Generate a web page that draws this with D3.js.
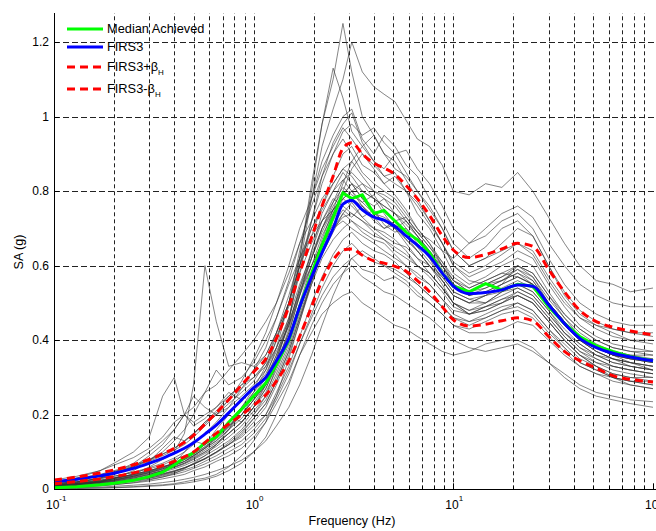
<!DOCTYPE html>
<html>
<head>
<meta charset="utf-8">
<script src="https://cdn.jsdelivr.net/npm/d3@7"></script>
<style>
  body { margin: 0; background: #fff; }
  svg { font-family: "Liberation Sans", Arial, sans-serif; }
</style>
</head>
<body>
<div id="chart"></div>
<script>
// frequency points (Hz) shared by every curve
var freq = [0.1,0.13,0.17,0.2,0.25,0.3,0.35,0.4,0.45,0.5,0.57,0.65,0.75,0.87,1.0,1.15,1.3,1.5,1.7,1.95,2.2,2.5,2.8,3.1,3.5,4.0,4.5,5.1,5.8,6.6,7.6,8.8,10,12,14.5,17.5,21,25,30,36,43,52,63,77,100];

var firs3 = [0.02,0.027,0.036,0.043,0.056,0.07,0.083,0.097,0.11,0.125,0.148,0.172,0.205,0.24,0.272,0.3,0.345,0.405,0.49,0.57,0.635,0.70,0.765,0.775,0.75,0.73,0.722,0.705,0.68,0.655,0.625,0.58,0.545,0.525,0.528,0.535,0.548,0.545,0.495,0.445,0.405,0.38,0.365,0.355,0.345];
var firs3Plus = [0.025,0.033,0.044,0.052,0.066,0.08,0.095,0.11,0.126,0.145,0.175,0.205,0.24,0.28,0.315,0.35,0.405,0.49,0.58,0.675,0.76,0.84,0.915,0.93,0.90,0.875,0.862,0.845,0.815,0.78,0.735,0.68,0.642,0.622,0.63,0.645,0.66,0.652,0.59,0.53,0.48,0.45,0.435,0.425,0.414];
var firs3Minus = [0.015,0.021,0.028,0.034,0.044,0.054,0.064,0.075,0.087,0.10,0.125,0.15,0.175,0.20,0.225,0.253,0.29,0.345,0.41,0.49,0.56,0.615,0.642,0.645,0.628,0.613,0.607,0.598,0.585,0.56,0.53,0.49,0.455,0.438,0.443,0.452,0.46,0.452,0.41,0.37,0.345,0.325,0.305,0.295,0.288];
var median = [0.004,0.007,0.012,0.016,0.024,0.034,0.046,0.065,0.085,0.098,0.125,0.14,0.18,0.215,0.25,0.285,0.335,0.40,0.49,0.58,0.655,0.73,0.795,0.78,0.79,0.74,0.748,0.72,0.69,0.67,0.635,0.58,0.545,0.53,0.552,0.535,0.55,0.545,0.49,0.445,0.41,0.385,0.37,0.356,0.345];

// individual records
var rec01 = [0.01,0.015,0.02,0.03,0.04,0.05,0.06,0.07,0.08,0.09,0.11,0.13,0.16,0.2,0.25,0.3,0.38,0.5,0.62,0.8,0.98,1.1,1.25,1.12,1.0,0.95,0.9,0.88,0.83,0.78,0.72,0.66,0.6,0.56,0.55,0.57,0.6,0.58,0.52,0.46,0.41,0.38,0.36,0.34,0.32];
var rec02 = [0.01,0.015,0.02,0.025,0.035,0.045,0.055,0.065,0.075,0.09,0.11,0.13,0.16,0.19,0.23,0.28,0.35,0.45,0.6,0.78,0.92,1.02,1.1,1.2,1.12,1.08,1.06,1.04,0.99,0.94,0.92,0.87,0.8,0.79,0.82,0.81,0.85,0.8,0.73,0.66,0.6,0.56,0.55,0.53,0.54];
var rec03 = [0.01,0.012,0.018,0.022,0.03,0.04,0.05,0.06,0.07,0.085,0.1,0.12,0.15,0.18,0.22,0.27,0.34,0.45,0.62,0.82,0.98,1.13,1.05,0.96,0.92,0.88,0.86,0.9,0.85,0.8,0.76,0.7,0.64,0.6,0.62,0.64,0.66,0.63,0.56,0.5,0.46,0.44,0.43,0.42,0.41];
var rec04 = [0.015,0.02,0.03,0.035,0.045,0.055,0.065,0.08,0.09,0.1,0.12,0.14,0.17,0.21,0.26,0.32,0.4,0.5,0.64,0.78,0.88,0.95,1.0,1.02,0.94,0.9,0.95,0.92,0.87,0.84,0.78,0.72,0.66,0.62,0.65,0.7,0.72,0.68,0.6,0.52,0.47,0.44,0.42,0.4,0.4];
var rec05 = [0.01,0.015,0.02,0.03,0.04,0.06,0.08,0.1,0.15,0.28,0.6,0.45,0.33,0.34,0.33,0.36,0.42,0.5,0.6,0.7,0.76,0.82,0.86,0.84,0.8,0.78,0.76,0.74,0.7,0.67,0.63,0.6,0.56,0.53,0.55,0.56,0.58,0.55,0.49,0.44,0.4,0.37,0.35,0.34,0.33];
var rec06 = [0.02,0.03,0.05,0.07,0.1,0.14,0.25,0.3,0.2,0.18,0.2,0.22,0.25,0.28,0.3,0.34,0.42,0.52,0.62,0.7,0.75,0.8,0.83,0.8,0.76,0.73,0.7,0.72,0.68,0.64,0.6,0.55,0.5,0.47,0.48,0.5,0.52,0.5,0.45,0.4,0.36,0.33,0.31,0.3,0.29];
var rec07 = [0.02,0.025,0.035,0.045,0.06,0.08,0.1,0.13,0.16,0.2,0.26,0.32,0.28,0.3,0.34,0.4,0.46,0.55,0.62,0.68,0.72,0.75,0.78,0.8,0.82,0.78,0.74,0.7,0.72,0.68,0.62,0.56,0.52,0.5,0.52,0.55,0.6,0.57,0.5,0.44,0.4,0.37,0.35,0.33,0.32];
var rec08 = [0.002,0.003,0.004,0.005,0.007,0.01,0.012,0.015,0.02,0.025,0.03,0.04,0.06,0.09,0.13,0.18,0.25,0.35,0.45,0.56,0.64,0.7,0.74,0.72,0.7,0.68,0.67,0.64,0.62,0.6,0.58,0.54,0.5,0.47,0.48,0.5,0.52,0.5,0.45,0.4,0.36,0.33,0.3,0.28,0.27];
var rec09 = [0.001,0.002,0.003,0.004,0.006,0.008,0.01,0.013,0.016,0.02,0.026,0.035,0.05,0.07,0.1,0.14,0.2,0.28,0.36,0.44,0.5,0.55,0.58,0.6,0.57,0.55,0.53,0.52,0.5,0.48,0.46,0.43,0.4,0.38,0.37,0.38,0.39,0.37,0.34,0.3,0.27,0.25,0.24,0.23,0.22];
var rec10 = [0.02,0.03,0.04,0.05,0.065,0.08,0.095,0.11,0.13,0.15,0.18,0.21,0.25,0.28,0.32,0.36,0.42,0.5,0.6,0.68,0.76,0.84,0.9,0.92,0.87,0.85,0.82,0.84,0.8,0.74,0.7,0.64,0.58,0.55,0.57,0.6,0.62,0.6,0.53,0.47,0.43,0.4,0.38,0.37,0.36];
var rec11 = [0.015,0.02,0.025,0.03,0.04,0.05,0.06,0.07,0.08,0.1,0.12,0.14,0.18,0.22,0.26,0.3,0.36,0.44,0.54,0.64,0.72,0.78,0.76,0.74,0.72,0.7,0.68,0.66,0.65,0.62,0.6,0.56,0.52,0.5,0.5,0.52,0.54,0.52,0.47,0.42,0.39,0.36,0.35,0.34,0.33];
var rec12 = [0.01,0.015,0.02,0.025,0.035,0.045,0.055,0.065,0.075,0.09,0.11,0.14,0.17,0.2,0.24,0.28,0.33,0.4,0.48,0.57,0.66,0.74,0.8,0.86,0.9,0.86,0.82,0.79,0.75,0.7,0.66,0.6,0.56,0.54,0.56,0.58,0.57,0.55,0.5,0.44,0.4,0.38,0.36,0.35,0.34];
var rec13 = [0.008,0.01,0.014,0.018,0.024,0.03,0.036,0.044,0.052,0.06,0.075,0.09,0.11,0.13,0.16,0.2,0.25,0.32,0.39,0.46,0.52,0.57,0.6,0.62,0.59,0.58,0.56,0.57,0.55,0.52,0.5,0.47,0.44,0.42,0.42,0.43,0.45,0.44,0.4,0.36,0.33,0.31,0.3,0.29,0.28];
var rec14 = [0.005,0.007,0.01,0.013,0.017,0.022,0.028,0.034,0.04,0.05,0.06,0.075,0.09,0.11,0.14,0.18,0.23,0.29,0.36,0.42,0.47,0.5,0.52,0.53,0.5,0.48,0.46,0.44,0.43,0.41,0.39,0.37,0.36,0.37,0.39,0.4,0.4,0.38,0.34,0.31,0.28,0.26,0.25,0.24,0.235];
var rec15 = [0.012,0.017,0.024,0.03,0.04,0.05,0.06,0.07,0.085,0.1,0.12,0.15,0.18,0.22,0.27,0.33,0.4,0.5,0.6,0.72,0.82,0.9,0.96,0.98,0.95,0.97,0.93,0.9,0.91,0.86,0.82,0.76,0.7,0.66,0.68,0.72,0.74,0.7,0.62,0.55,0.5,0.47,0.45,0.44,0.44];
var rec16 = [0.01,0.014,0.02,0.025,0.033,0.042,0.05,0.06,0.07,0.082,0.1,0.12,0.15,0.18,0.22,0.27,0.33,0.42,0.52,0.64,0.74,0.8,0.85,0.82,0.78,0.74,0.72,0.7,0.66,0.62,0.58,0.54,0.5,0.48,0.5,0.53,0.55,0.53,0.48,0.42,0.38,0.35,0.33,0.32,0.31];
var rec17 = [0.025,0.035,0.05,0.065,0.085,0.11,0.14,0.18,0.2,0.22,0.26,0.28,0.32,0.36,0.4,0.45,0.5,0.58,0.66,0.72,0.78,0.82,0.86,0.88,0.84,0.8,0.78,0.76,0.72,0.68,0.64,0.6,0.55,0.52,0.54,0.56,0.58,0.56,0.5,0.45,0.41,0.38,0.36,0.35,0.34];
var rec18 = [0.008,0.012,0.016,0.02,0.027,0.034,0.042,0.05,0.058,0.068,0.082,0.1,0.12,0.15,0.19,0.23,0.29,0.37,0.46,0.55,0.62,0.67,0.7,0.72,0.69,0.67,0.66,0.63,0.6,0.57,0.55,0.51,0.47,0.45,0.46,0.48,0.5,0.48,0.43,0.38,0.34,0.32,0.3,0.29,0.29];
var rec19 = [0.012,0.016,0.022,0.028,0.037,0.047,0.057,0.068,0.08,0.094,0.113,0.135,0.165,0.2,0.24,0.29,0.36,0.46,0.58,0.72,0.84,0.93,0.98,1.01,0.93,0.88,0.84,0.82,0.8,0.77,0.72,0.66,0.6,0.57,0.59,0.61,0.64,0.62,0.55,0.49,0.44,0.41,0.39,0.38,0.37];
var rec20 = [0.015,0.02,0.03,0.04,0.06,0.09,0.12,0.16,0.2,0.25,0.22,0.2,0.22,0.25,0.28,0.32,0.38,0.46,0.55,0.63,0.7,0.75,0.78,0.76,0.73,0.7,0.69,0.67,0.64,0.6,0.57,0.53,0.49,0.47,0.49,0.5,0.53,0.51,0.46,0.41,0.37,0.34,0.33,0.32,0.31];
var rec21 = [0.01,0.014,0.019,0.024,0.032,0.04,0.049,0.058,0.068,0.08,0.096,0.115,0.14,0.17,0.21,0.25,0.31,0.39,0.48,0.58,0.67,0.75,0.82,0.88,0.92,0.95,0.9,0.86,0.84,0.8,0.75,0.7,0.64,0.6,0.62,0.66,0.7,0.68,0.6,0.53,0.48,0.45,0.43,0.42,0.42];
var rec22 = [0.012,0.016,0.022,0.027,0.035,0.044,0.053,0.063,0.074,0.087,0.105,0.125,0.15,0.18,0.22,0.26,0.32,0.4,0.5,0.6,0.68,0.74,0.79,0.82,0.8,0.78,0.76,0.74,0.72,0.69,0.67,0.64,0.62,0.66,0.7,0.74,0.76,0.73,0.66,0.6,0.55,0.52,0.5,0.49,0.49];
var rec23 = [0.006,0.009,0.012,0.016,0.021,0.027,0.033,0.04,0.047,0.056,0.068,0.082,0.1,0.12,0.15,0.19,0.24,0.31,0.39,0.47,0.54,0.6,0.64,0.66,0.63,0.61,0.6,0.58,0.56,0.53,0.5,0.47,0.44,0.43,0.45,0.47,0.48,0.46,0.41,0.37,0.33,0.31,0.29,0.28,0.27];
var rec24 = [0.01,0.013,0.018,0.023,0.03,0.038,0.046,0.055,0.064,0.075,0.09,0.108,0.13,0.16,0.2,0.24,0.3,0.38,0.47,0.56,0.63,0.69,0.74,0.77,0.73,0.75,0.71,0.69,0.7,0.66,0.62,0.58,0.54,0.52,0.53,0.55,0.57,0.55,0.5,0.45,0.41,0.38,0.36,0.35,0.35];
var rec25 = [0.015,0.02,0.028,0.035,0.046,0.058,0.07,0.084,0.1,0.12,0.15,0.18,0.22,0.27,0.32,0.38,0.46,0.56,0.66,0.76,0.84,0.9,0.94,0.9,0.85,0.82,0.8,0.78,0.74,0.7,0.66,0.61,0.56,0.53,0.55,0.57,0.59,0.57,0.51,0.46,0.42,0.39,0.37,0.36,0.35];
var rec26 = [0.003,0.004,0.006,0.008,0.011,0.014,0.018,0.022,0.027,0.032,0.04,0.05,0.062,0.078,0.1,0.13,0.17,0.22,0.28,0.36,0.44,0.52,0.58,0.62,0.64,0.62,0.6,0.59,0.57,0.55,0.52,0.49,0.46,0.44,0.46,0.48,0.49,0.47,0.42,0.38,0.34,0.32,0.3,0.29,0.28];
var rec27 = [0.012,0.017,0.023,0.029,0.038,0.048,0.058,0.069,0.081,0.095,0.115,0.138,0.168,0.2,0.24,0.28,0.34,0.42,0.52,0.62,0.7,0.76,0.8,0.78,0.76,0.73,0.72,0.7,0.67,0.64,0.6,0.56,0.52,0.5,0.52,0.54,0.56,0.54,0.49,0.44,0.4,0.37,0.35,0.34,0.33];
var rec28 = [0.008,0.011,0.015,0.019,0.025,0.032,0.04,0.048,0.057,0.067,0.081,0.098,0.12,0.145,0.18,0.22,0.28,0.36,0.45,0.55,0.64,0.72,0.78,0.8,0.77,0.74,0.73,0.71,0.69,0.65,0.61,0.57,0.53,0.51,0.52,0.53,0.55,0.53,0.48,0.43,0.39,0.36,0.34,0.33,0.32];
var rec29 = [0.02,0.028,0.038,0.048,0.062,0.078,0.094,0.11,0.128,0.148,0.175,0.205,0.24,0.27,0.3,0.33,0.38,0.45,0.53,0.62,0.7,0.77,0.83,0.85,0.82,0.8,0.79,0.77,0.73,0.69,0.65,0.6,0.55,0.52,0.53,0.55,0.57,0.55,0.5,0.45,0.41,0.38,0.37,0.36,0.36];
var rec30 = [0.01,0.013,0.017,0.021,0.027,0.034,0.041,0.049,0.058,0.068,0.082,0.1,0.125,0.155,0.19,0.23,0.29,0.37,0.46,0.56,0.64,0.7,0.73,0.74,0.72,0.69,0.67,0.65,0.63,0.6,0.58,0.54,0.5,0.48,0.49,0.51,0.53,0.51,0.46,0.41,0.37,0.35,0.33,0.32,0.31];
var rec31 = [0.012,0.018,0.03,0.045,0.07,0.1,0.13,0.16,0.2,0.17,0.19,0.22,0.26,0.24,0.27,0.31,0.37,0.44,0.52,0.6,0.66,0.71,0.75,0.73,0.76,0.72,0.7,0.71,0.67,0.64,0.6,0.57,0.53,0.51,0.5,0.53,0.54,0.52,0.47,0.42,0.38,0.36,0.34,0.33,0.32];
var rec32 = [0.008,0.012,0.02,0.03,0.05,0.075,0.11,0.14,0.13,0.15,0.18,0.2,0.23,0.26,0.29,0.34,0.41,0.49,0.58,0.66,0.72,0.77,0.81,0.79,0.77,0.79,0.75,0.72,0.73,0.69,0.65,0.61,0.57,0.54,0.56,0.58,0.6,0.58,0.52,0.47,0.43,0.4,0.38,0.37,0.37];
var rec33 = [0.005,0.008,0.012,0.017,0.025,0.035,0.05,0.07,0.1,0.13,0.12,0.16,0.2,0.18,0.22,0.28,0.35,0.44,0.54,0.62,0.69,0.75,0.79,0.82,0.78,0.76,0.78,0.74,0.71,0.68,0.64,0.59,0.55,0.53,0.54,0.56,0.59,0.56,0.5,0.45,0.41,0.38,0.36,0.35,0.34];
var rec34 = [0.004,0.006,0.009,0.012,0.018,0.025,0.033,0.042,0.055,0.07,0.09,0.12,0.16,0.22,0.2,0.25,0.33,0.43,0.53,0.6,0.66,0.7,0.72,0.7,0.68,0.66,0.64,0.62,0.6,0.58,0.55,0.51,0.48,0.47,0.49,0.51,0.52,0.5,0.45,0.4,0.36,0.34,0.32,0.31,0.3];
var rec35 = [0.018,0.025,0.035,0.045,0.06,0.075,0.09,0.105,0.12,0.14,0.17,0.2,0.24,0.29,0.35,0.42,0.5,0.6,0.7,0.78,0.86,0.92,0.97,0.94,0.9,0.87,0.84,0.85,0.8,0.76,0.71,0.66,0.61,0.58,0.6,0.63,0.66,0.64,0.57,0.51,0.46,0.43,0.41,0.4,0.39];
var rec36 = [0.006,0.009,0.013,0.017,0.023,0.03,0.038,0.047,0.057,0.068,0.083,0.1,0.12,0.14,0.17,0.2,0.26,0.33,0.41,0.5,0.57,0.63,0.67,0.69,0.66,0.64,0.63,0.61,0.58,0.55,0.52,0.49,0.46,0.45,0.47,0.49,0.5,0.48,0.43,0.39,0.35,0.33,0.31,0.3,0.3];

var records = [rec01,rec02,rec03,rec04,rec05,rec06,rec07,rec08,rec09,rec10,rec11,rec12,
               rec13,rec14,rec15,rec16,rec17,rec18,rec19,rec20,rec21,rec22,rec23,rec24,
               rec25,rec26,rec27,rec28,rec29,rec30,rec31,rec32,rec33,rec34,rec35,rec36];

var yTicks = [0, 0.2, 0.4, 0.6, 0.8, 1, 1.2];
var yTickLabels = ["0", "0.2", "0.4", "0.6", "0.8", "1", "1.2"];
var xDecades = [0.1, 1, 10, 100];
var xDecadeExp = ["-1", "0", "1", "2"];
var legendLabels = ["Median Achieved", "FIRS3", "FIRS3+\u03B2", "FIRS3-\u03B2"];

var width = 656, height = 531;
var margin = {top: 13, right: 3, bottom: 42, left: 54};

var svg = d3.select("#chart").append("svg")
    .attr("width", width)
    .attr("height", height);

var x = d3.scaleLog()
    .domain([0.1, 100])
    .range([margin.left, width - margin.right]);

var y = d3.scaleLinear()
    .domain([0, 1.278])
    .range([height - margin.bottom + 0.3, margin.top]);

// grid: every minor log position
var minorVals = [];
[0.1, 1, 10].forEach(function (d) {
    for (var k = 2; k <= 9; k++) minorVals.push(d * k);
});

var grid = svg.append("g");
grid.selectAll(".vgrid")
    .data(xDecades.slice(1, 3).concat(minorVals))
    .enter().append("line")
    .attr("x1", function (d) { return Math.round(x(d)) + 0.5; })
    .attr("x2", function (d) { return Math.round(x(d)) + 0.5; })
    .attr("y1", y(0))
    .attr("y2", margin.top)
    .attr("stroke", "#222")
    .attr("stroke-width", 1)
    .attr("stroke-dasharray", "4,3");

grid.selectAll(".hgrid")
    .data(yTicks.slice(1))
    .enter().append("line")
    .attr("x1", margin.left)
    .attr("x2", width)
    .attr("y1", function (d) { return Math.round(y(d)) + 0.5; })
    .attr("y2", function (d) { return Math.round(y(d)) + 0.5; })
    .attr("stroke", "#222")
    .attr("stroke-width", 1)
    .attr("stroke-dasharray", "6,3");

var line = d3.line()
    .x(function (d, i) { return x(freq[i]); })
    .y(function (d) { return y(d); });

var plot = svg.append("g");

plot.selectAll(".rec")
    .data(records)
    .enter().append("path")
    .attr("d", line)
    .attr("fill", "none")
    .attr("stroke", "#333")
    .attr("stroke-opacity", 0.75)
    .attr("stroke-width", 0.8);

var smooth = d3.line()
    .x(function (d, i) { return x(freq[i]); })
    .y(function (d) { return y(d); })
    .curve(d3.curveMonotoneX);

plot.append("path").attr("d", line(median))
    .attr("fill", "none").attr("stroke", "#00ff00").attr("stroke-width", 3);
plot.append("path").attr("d", smooth(firs3))
    .attr("fill", "none").attr("stroke", "#0000ff").attr("stroke-width", 3);
plot.append("path").attr("d", smooth(firs3Plus))
    .attr("fill", "none").attr("stroke", "#ff0000").attr("stroke-width", 3)
    .attr("stroke-dasharray", "8,5");
plot.append("path").attr("d", smooth(firs3Minus))
    .attr("fill", "none").attr("stroke", "#ff0000").attr("stroke-width", 3)
    .attr("stroke-dasharray", "8,5");

// axes (MATLAB style, inward ticks)
var axes = svg.append("g").attr("font-size", 12).attr("fill", "#000");
axes.append("line")
    .attr("x1", margin.left + 0.5).attr("x2", margin.left + 0.5)
    .attr("y1", margin.top).attr("y2", y(0))
    .attr("stroke", "#000");
axes.append("line")
    .attr("x1", margin.left).attr("x2", width)
    .attr("y1", Math.round(y(0)) + 0.5).attr("y2", Math.round(y(0)) + 0.5)
    .attr("stroke", "#000");

axes.selectAll(".ytick")
    .data(yTicks)
    .enter().append("line")
    .attr("x1", margin.left).attr("x2", margin.left + 5)
    .attr("y1", function (d) { return Math.round(y(d)) + 0.5; })
    .attr("y2", function (d) { return Math.round(y(d)) + 0.5; })
    .attr("stroke", "#000");

axes.selectAll(".ylab")
    .data(yTicks)
    .enter().append("text")
    .attr("x", margin.left - 5)
    .attr("y", function (d) { return y(d) + 4; })
    .attr("text-anchor", "end")
    .text(function (d, i) { return yTickLabels[i]; });

axes.selectAll(".xminor")
    .data(minorVals)
    .enter().append("line")
    .attr("x1", function (d) { return Math.round(x(d)) + 0.5; })
    .attr("x2", function (d) { return Math.round(x(d)) + 0.5; })
    .attr("y1", y(0)).attr("y2", y(0) - 3)
    .attr("stroke", "#000");
axes.selectAll(".xmajor")
    .data(xDecades)
    .enter().append("line")
    .attr("x1", function (d) { return Math.round(x(d)) + 0.5; })
    .attr("x2", function (d) { return Math.round(x(d)) + 0.5; })
    .attr("y1", y(0)).attr("y2", y(0) - 6)
    .attr("stroke", "#000");

// the last decade label is cut by the right edge, as in the original figure
var xl = axes.selectAll(".xlab")
    .data(xDecades)
    .enter().append("text")
    .attr("x", function (d) { return x(d) - 8; })
    .attr("y", 509);
xl.append("tspan").text("10");
xl.append("tspan")
    .attr("dy", -8)
    .attr("font-size", 8)
    .text(function (d, i) { return xDecadeExp[i]; });

axes.append("text")
    .attr("x", 352).attr("y", 525)
    .attr("text-anchor", "middle")
    .attr("font-size", 12.6)
    .text("Frequency (Hz)");

axes.append("text")
    .attr("transform", "translate(23,252) rotate(-90)")
    .attr("text-anchor", "middle")
    .attr("font-size", 12.6)
    .text("SA (g)");

// legend
var legendColors = ["#00ff00", "#0000ff", "#ff0000", "#ff0000"];
var legendDash = [null, null, "8,5", "8,5"];
var legendY = [29, 47, 67, 89];
var lg = svg.append("g").attr("font-size", 12.8);
legendLabels.forEach(function (name, i) {
    lg.append("line")
        .attr("x1", 67).attr("x2", 103)
        .attr("y1", legendY[i]).attr("y2", legendY[i])
        .attr("stroke", legendColors[i])
        .attr("stroke-width", 3)
        .attr("stroke-dasharray", legendDash[i]);
    var t = lg.append("text")
        .attr("x", 107).attr("y", legendY[i] + 4)
        .text(name);
    if (i >= 2) {
        t.append("tspan").attr("dy", 4).attr("font-size", 8).text("H");
    }
});
</script>
</body>
</html>
